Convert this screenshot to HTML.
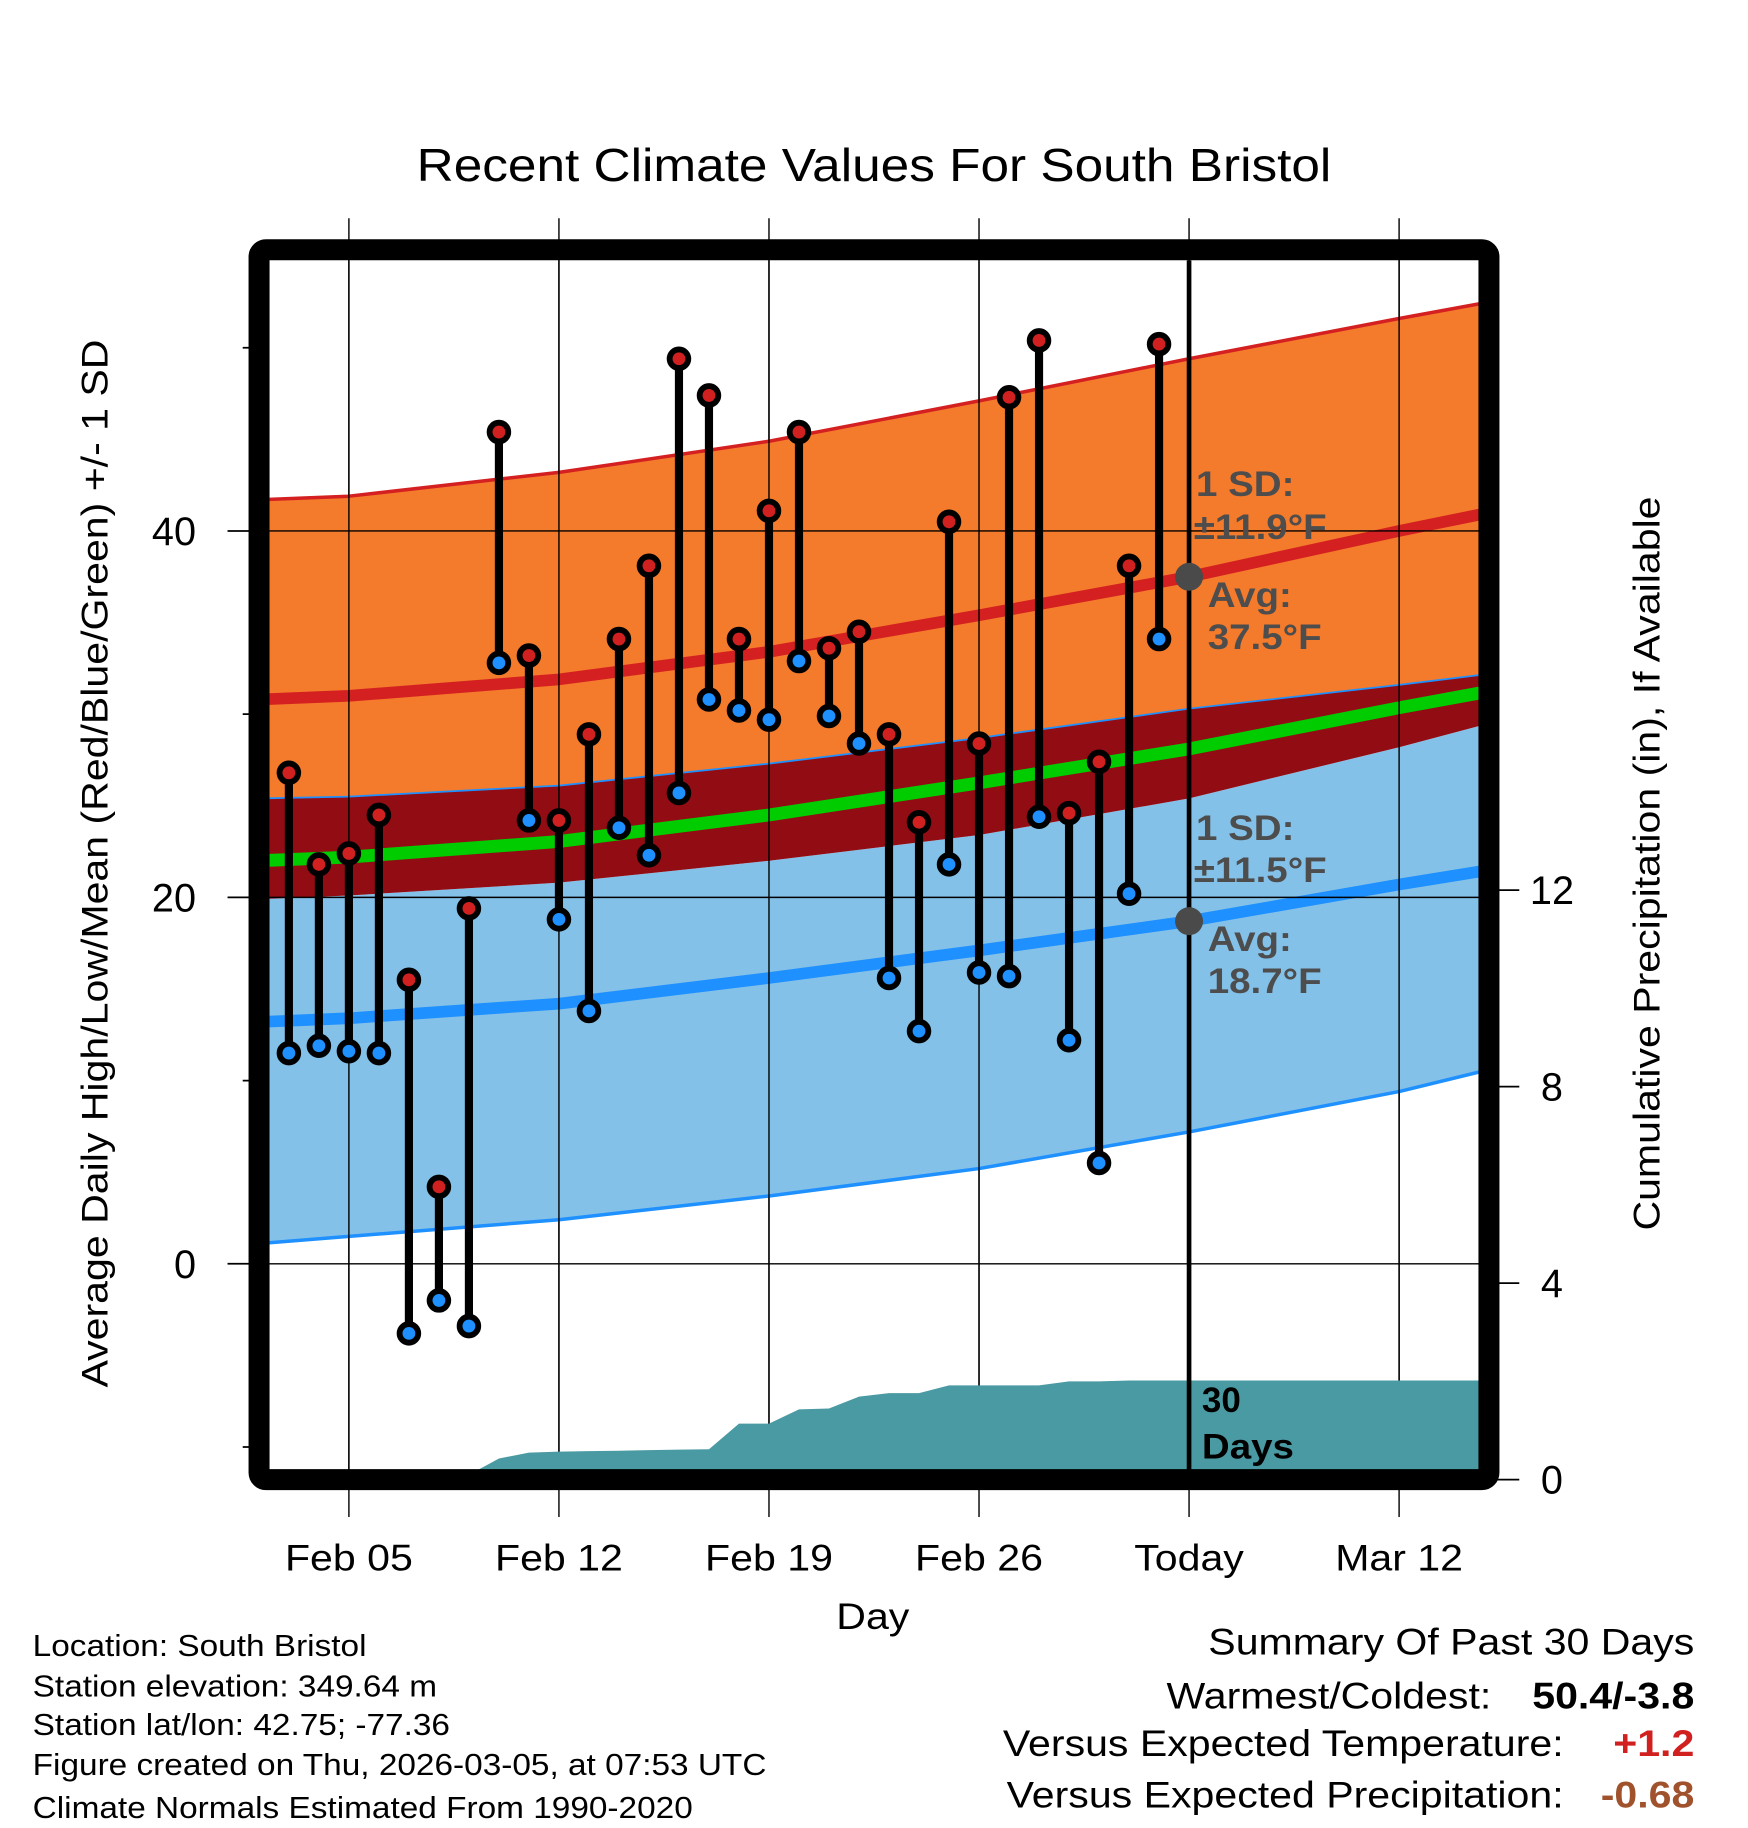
<!DOCTYPE html>
<html><head><meta charset="utf-8"><style>
html,body{margin:0;padding:0;background:#fff;}
svg{display:block;font-family:"Liberation Sans",Arial,sans-serif;}
</style></head><body>
<svg id="chart" xmlns="http://www.w3.org/2000/svg" width="1748" height="1828" viewBox="0 0 1498 1566.5">
<defs><clipPath id="plotclip"><rect x="231" y="223" width="1037" height="1037"/></clipPath></defs>
<rect x="0" y="0" width="1498" height="1567" fill="#fff"/>
<text x="749" y="155" font-size="40" text-anchor="middle">Recent Climate Values For South Bristol</text>
<g id="grid"></g>
<g id="bands" clip-path="url(#plotclip)"></g>
<g id="hgrid"></g>
<g id="precip" clip-path="url(#plotclip)"></g>
<g id="marks"></g>
<g id="annot"></g>
<rect x="222" y="214" width="1054" height="1054" fill="none" stroke="#000" stroke-width="18" rx="6"/>
<g id="axes"></g>
<text transform="translate(92,740) rotate(-90)" font-size="32" text-anchor="middle">Average Daily High/Low/Mean (Red/Blue/Green) +/- 1 SD</text>
<text transform="translate(1422,740) rotate(-90)" font-size="32" text-anchor="middle">Cumulative Precipitation (in), If Available</text>
<text x="748" y="1396" font-size="32" text-anchor="middle">Day</text>
<g font-size="26">
<text x="28" y="1419">Location: South Bristol</text>
<text x="28" y="1454">Station elevation: 349.64 m</text>
<text x="28" y="1487">Station lat/lon: 42.75; -77.36</text>
<text x="28" y="1521">Figure created on Thu, 2026-03-05, at 07:53 UTC</text>
<text x="28" y="1558">Climate Normals Estimated From 1990-2020</text>
</g>
<g font-size="32">
<text x="1452" y="1418" text-anchor="end">Summary Of Past 30 Days</text>
<text x="1278" y="1464" text-anchor="end">Warmest/Coldest:</text>
<text x="1452" y="1464" text-anchor="end" font-weight="bold">50.4/-3.8</text>
<text x="1340" y="1505" text-anchor="end">Versus Expected Temperature:</text>
<text x="1452" y="1505" text-anchor="end" font-weight="bold" fill="#d02020">+1.2</text>
<text x="1340" y="1549" text-anchor="end">Versus Expected Precipitation:</text>
<text x="1452" y="1549" text-anchor="end" font-weight="bold" fill="#a0522d">-0.68</text>
</g>
</svg>
<script>
// ---- data ----
const dataDays = [3,4,5,6,7,8,9,10,11,12,13,14,15,16,17,18,19,20,21,22,23,24,25,26,27,28,29,30,31,32];
const highs = [26.8,21.8,22.4,24.5,15.5,4.2,19.4,45.4,33.2,24.2,28.9,34.1,38.1,49.4,47.4,34.1,41.1,45.4,33.6,34.5,28.9,24.1,40.5,28.4,47.3,50.4,24.6,27.4,38.1,50.2];
const lows = [11.5,11.9,11.6,11.5,-3.8,-2.0,-3.4,32.8,24.2,18.8,13.8,23.8,22.3,25.7,30.8,30.2,29.7,32.9,29.9,28.4,15.6,12.7,21.8,15.9,15.7,24.4,12.2,5.5,20.2,34.1];
const precipDays = [2,3,4,5,6,7,8,9,10,11,12,13,14,15,16,17,18,19,20,21,22,23,24,25,26,27,28,29,30,31,32,33,43];
const precipCum = [0,0,0,0,0,0,0,0.1,0.43,0.55,0.57,0.58,0.59,0.6,0.61,0.62,1.14,1.14,1.43,1.45,1.69,1.76,1.76,1.92,1.92,1.92,1.92,2.0,2.0,2.02,2.02,2.02,2.02];
const normDays = [2,5,12,19,26,33,40,43];
const normHigh = [30.8,31.0,31.9,33.4,35.4,37.5,40.0,41.0];
const normHighUpper = [41.7,41.9,43.2,44.9,47.1,49.4,51.6,52.5];
const meanBandTop = [25.4,25.5,26.1,27.3,28.7,30.3,31.6,32.2];
const meanBandBottom = [19.9,20.1,20.8,22.0,23.4,25.4,28.2,29.5];
const normLow = [13.2,13.4,14.2,15.6,17.1,18.7,20.7,21.5];
const normLowLower = [1.1,1.5,2.4,3.7,5.2,7.2,9.4,10.6];
const xTickDays = [5,12,19,26,33,40];
const xTickLabels = ["Feb 05","Feb 12","Feb 19","Feb 26","Today","Mar 12"];
const yTicks = [0,20,40];
const yMinorTicks = [-10,10,30,50];
const y2Ticks = [0,4,8,12];

// ---- scales ----
const X = d => 299 + (d - 5) * (180 / 7);
const Y = t => 1083 - t * 15.7;
const Y2 = p => 1268 - p * 42.1;
const NS = "http://www.w3.org/2000/svg";
function mk(tag, attrs, parent){const e=document.createElementNS(NS,tag);for(const k in attrs)e.setAttribute(k,attrs[k]);parent.appendChild(e);return e;}
const pts = (days, vals, f) => days.map((d,i)=>X(d).toFixed(1)+","+f(vals[i]).toFixed(1));
const rev = a => a.slice().reverse();

const grid = document.getElementById('grid');
xTickDays.forEach((d,i)=>{
  const l = mk('line',{x1:X(d),x2:X(d),y1:187,y2:1300,stroke:'#000','stroke-width':1.2},grid);
  
  
});

// bands
const bands = document.getElementById('bands');
const normMean = normHigh.map((h,i)=>(h+normLow[i])/2);
function band(upper, lower, fill, name){
  const p = mk('polygon',{points: pts(normDays,upper,Y).concat(rev(pts(normDays,lower,Y))).join(' '), fill:fill},bands);
  
  
}
function line(vals, color, w, name, f){
  const p = mk('polyline',{points: pts(normDays,vals,f||Y).join(' '), fill:'none', stroke:color,'stroke-width':w,'stroke-linejoin':'round'},bands);
  
  
}
band(normHighUpper, meanBandTop, '#f47a2c', 'high-sd-band');
band(meanBandBottom, normLowLower, '#84c1e8', 'low-sd-band');
band(meanBandTop, meanBandBottom, '#920c14', 'mean-band');
line(normHighUpper, '#d42020', 3, 'high-upper-line');
line(meanBandTop, '#1e90ff', 1.5, 'mean-band-top-line');
line(normMean, '#00cc00', 11, 'mean-line');
line(normHigh, '#d42020', 10, 'high-normal-line');
line(normLow, '#1e90ff', 10, 'low-normal-line');
line(normLowLower, '#1e90ff', 3, 'low-lower-line');

// horizontal grid
const hgrid = document.getElementById('hgrid');
yTicks.forEach(t=>{
  const l = mk('line',{x1:231,x2:1268,y1:Y(t),y2:Y(t),stroke:'#000','stroke-width':1.2},hgrid);
  
  
});
xTickDays.forEach(d=>{
  const l = mk('line',{x1:X(d),x2:X(d),y1:223,y2:1260,stroke:'#000','stroke-width':1.2},hgrid);
  
  
});

// precip
const pg = document.getElementById('precip');
const pp = pts(precipDays,precipCum,Y2);
const area = mk('polygon',{points: pp.concat([X(43)+","+Y2(0), X(2)+","+Y2(0)]).join(' '), fill:'#4a9aa3'},pg);



// today line
const tl = mk('line',{x1:X(33),x2:X(33),y1:223,y2:1260,stroke:'#000','stroke-width':4},pg);



// daily marks
const marks = document.getElementById('marks');
dataDays.forEach((d,i)=>{
  const g = mk('g',{},marks);
  
  
  mk('line',{x1:X(d),x2:X(d),y1:Y(highs[i]),y2:Y(lows[i]),stroke:'#000','stroke-width':7},g);
  const hc = mk('circle',{cx:X(d),cy:Y(highs[i]),r:8,fill:'#d02020',stroke:'#000','stroke-width':5},g);
  
  
  const lc = mk('circle',{cx:X(d),cy:Y(lows[i]),r:8,fill:'#1e90ff',stroke:'#000','stroke-width':5},g);
  
  
});

// annotations
const an = document.getElementById('annot');
const todayHigh = normHigh[5], todayLow = normLow[5];
const d1 = mk('circle',{cx:X(33),cy:Y(todayHigh),r:12,fill:'#4a4a4a'},an);


const d2 = mk('circle',{cx:X(33),cy:Y(todayLow),r:12,fill:'#4a4a4a'},an);


function txt(x,y,s,name,attrs){const t=mk('text',Object.assign({x:x,y:y},attrs||{}),an);t.textContent=s;return t;}
const ga = {'font-size':30,'font-weight':'bold',fill:'#4d4d4d'};
txt(1025,425,'1 SD:','high-sd-label',ga);
txt(1023,462,'±11.9°F','high-sd-value',ga);
txt(1035,520,'Avg:','high-avg-label',ga);
txt(1035,556,'37.5°F','high-avg-value',ga);
txt(1025,720,'1 SD:','low-sd-label',ga);
txt(1023,756,'±11.5°F','low-sd-value',ga);
txt(1035,815,'Avg:','low-avg-label',ga);
txt(1035,851,'18.7°F','low-avg-value',ga);
const ba = {'font-size':30,'font-weight':'bold',fill:'#000'};
txt(1030,1210,'30','days-label-num',ba);
txt(1030,1250,'Days','days-label',ba);

// axes
const ax = document.getElementById('axes');
xTickDays.forEach((d,i)=>{
  const t = mk('text',{x:X(d),y:1346,'font-size':32,'text-anchor':'middle'},ax);
  t.textContent = xTickLabels[i];
  
  
});
yTicks.forEach(v=>{
  mk('line',{x1:195,x2:222,y1:Y(v),y2:Y(v),stroke:'#000','stroke-width':1.5},ax);
  const t = mk('text',{x:168,y:Y(v)+12,'font-size':34,'text-anchor':'end'},ax);
  t.textContent = v;
  
  
});
yMinorTicks.forEach(v=>{
  const l = mk('line',{x1:208,x2:222,y1:Y(v),y2:Y(v),stroke:'#000','stroke-width':1.5},ax);
  
  
});
y2Ticks.forEach(v=>{
  mk('line',{x1:1276,x2:1302,y1:Y2(v),y2:Y2(v),stroke:'#000','stroke-width':1.5},ax);
  const t = mk('text',{x:1330,y:Y2(v)+12,'font-size':34,'text-anchor':'middle'},ax);
  t.textContent = v;
  
  
});

// widen text to match reference font metrics
document.querySelectorAll('#chart text').forEach(t=>{
  const s = t.textContent.trim();
  if (/^-?\d+$/.test(s)) return;
  const w = t.getComputedTextLength();
  t.setAttribute('textLength', (w*1.10).toFixed(1));
  t.setAttribute('lengthAdjust','spacingAndGlyphs');
});
</script>
</body></html>
